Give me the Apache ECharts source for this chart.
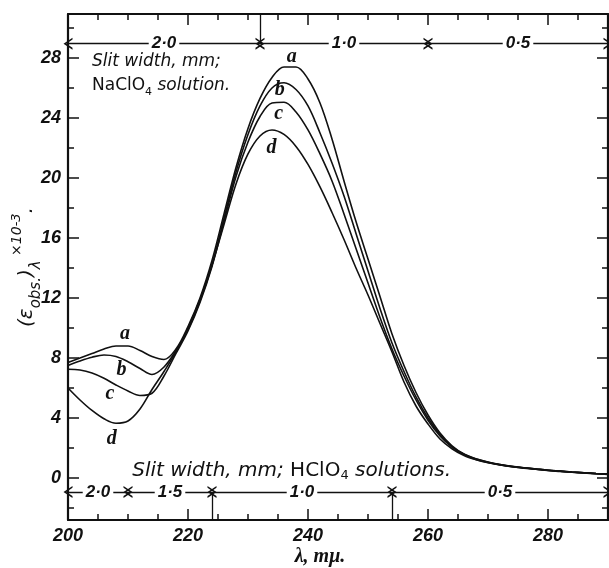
<!DOCTYPE html>
<html><head><meta charset="utf-8">
<script src="https://cdn.jsdelivr.net/npm/echarts@6/dist/echarts.min.js"></script>
<style>html,body{margin:0;padding:0;background:#fff}#c{width:609px;height:568px}</style>
</head><body><div id="c"></div>
<script>
// ---- data ----
const wavelengths = [200,202,204,206,208,210,212,214,216,218,220,222,224,226,228,230,232,234,236,238,240,242,244,246,248,250,252,254,256,258,260,262,264,266,268,270,272,274,276,278,280,282,284,286,288,290];
const curveA = [7.7,8.0,8.3,8.6,8.8,8.8,8.5,8.1,7.9,8.6,10.1,12.0,14.5,17.6,20.7,23.3,25.3,26.7,27.4,27.4,26.6,25.0,22.6,19.8,17.1,14.6,12.1,9.6,7.5,5.7,4.2,3.0,2.15,1.6,1.28,1.06,0.9,0.78,0.68,0.6,0.52,0.46,0.4,0.35,0.3,0.26];
const curveB = [7.5,7.8,8.05,8.2,8.1,7.75,7.3,6.9,7.4,8.5,9.9,11.8,14.2,17.3,20.4,22.9,24.8,26.0,26.35,25.9,24.8,23.0,21.0,18.8,16.3,13.8,11.3,9.0,7.1,5.4,4.0,2.9,2.1,1.58,1.26,1.05,0.89,0.77,0.68,0.6,0.52,0.46,0.4,0.35,0.3,0.26];
const curveC = [7.25,7.2,7.0,6.65,6.2,5.8,5.5,5.65,6.8,8.3,9.8,11.7,14.1,17.1,20.1,22.4,24.1,25.0,25.05,24.4,23.2,21.6,19.8,17.6,15.3,13.0,10.7,8.6,6.8,5.2,3.85,2.8,2.05,1.55,1.24,1.03,0.88,0.76,0.67,0.59,0.51,0.45,0.39,0.34,0.29,0.25];
const curveD = [6.0,5.2,4.5,3.95,3.65,3.8,4.6,5.9,7.1,8.4,10.0,11.9,14.2,16.9,19.6,21.6,22.8,23.2,22.9,22.1,20.9,19.4,17.7,15.9,14.0,12.2,10.3,8.4,6.4,4.8,3.6,2.6,1.95,1.5,1.22,1.02,0.87,0.75,0.66,0.58,0.5,0.44,0.38,0.33,0.28,0.24];
const curveNames = ['a','b','c','d'];
const peakLabels = [[237.3,28.1,'a'],[235.3,25.85,'b'],[235.1,24.3,'c'],[233.9,22.0,'d']];
const dipLabels = [[209.5,9.6,'a'],[208.9,7.2,'b'],[207.0,5.6,'c'],[207.3,2.6,'d']];
const xMajorTicks = [200,220,240,260,280];
const xMinorTicks = [205,210,215,225,230,235,245,250,255,265,270,275,285];
const yMajorTicks = [0,4,8,12,16,20,24,28];
const yMinorTicks = [-2,2,6,10,14,18,22,26,30];
const topSlitBreaks = [200,232,260,290];
const topSlitLabels = ['2·0','1·0','0·5'];
const topSlitLevel = 28.95;
const bottomSlitBreaks = [200,210,224,254,290];
const bottomSlitLabels = ['2·0','1·5','1·0','0·5'];
const bottomSlitLevel = -0.93;
const topNotePos = [204.0, 26.95];
const bottomNotePos = [210.7, 0.5];

// ---- chart ----
const X_MIN = 200, X_MAX = 290, Y_MIN = -2.8, Y_MAX = 30.93;
const INK = '#111';
const numFont = {fontFamily:'Liberation Sans', fontStyle:'italic', fontWeight:'bold', fontSize:18, color:INK};
const chart = echarts.init(document.getElementById('c'), null, {renderer:'canvas'});

function xAx(pos, ticks, len, showLine, showLabel){
  return {type:'value', min:X_MIN, max:X_MAX, position:pos, gridIndex:0,
    axisLine:{show:showLine, onZero:false, lineStyle:{color:INK, width:2}},
    axisTick:{show:true, inside:true, length:len, customValues:ticks, lineStyle:{color:INK, width:1.5}},
    axisLabel:{show:showLabel, customValues:ticks, margin:7, ...numFont},
    splitLine:{show:false}};
}
function yAx(pos, ticks, len, showLine, showLabel){
  return {type:'value', min:Y_MIN, max:Y_MAX, position:pos, gridIndex:0,
    axisLine:{show:showLine, onZero:false, lineStyle:{color:INK, width:2.2}},
    axisTick:{show:true, inside:true, length:len, customValues:ticks, lineStyle:{color:INK, width:1.5}},
    axisLabel:{show:showLabel, customValues:ticks, margin:7, ...numFont},
    splitLine:{show:false}};
}
const xAxes = [xAx('bottom', xMajorTicks, 11, true, true), xAx('bottom', xMinorTicks, 6, false, false),
               xAx('top', xMajorTicks, 11, true, false), xAx('top', xMinorTicks, 6, false, false)];
xAxes[0].name = 'λ, mμ.';
xAxes[0].nameLocation = 'middle';
xAxes[0].nameGap = 27;
xAxes[0].nameMoveOverlap = false;
xAxes[0].nameTextStyle = {fontFamily:'Liberation Serif', fontStyle:'italic', fontWeight:'bold', fontSize:20, color:INK, padding:[0,36,0,0]};
const yAxes = [yAx('left', yMajorTicks, 11, true, true), yAx('left', yMinorTicks, 6, false, false),
               yAx('right', yMajorTicks, 11, true, false), yAx('right', yMinorTicks, 6, false, false)];
yAxes[0].name = '{p|(ε}{sub|obs.}{p|)}{sub|λ}{sup| ×10}{sup2|-3}{p|.}';
yAxes[0].nameLocation = 'middle';
yAxes[0].nameRotate = 90;
yAxes[0].nameGap = 24;
yAxes[0].nameMoveOverlap = false;
const nameFam = 'DejaVu Sans';
yAxes[0].nameTextStyle = {
  rich:{
    p:{fontFamily:nameFam, fontStyle:'italic', fontSize:20, color:INK, lineHeight:30, verticalAlign:'middle'},
    sub:{fontFamily:nameFam, fontStyle:'italic', fontSize:15, color:INK, lineHeight:30, verticalAlign:'bottom'},
    sup:{fontFamily:nameFam, fontStyle:'italic', fontSize:14, color:INK, lineHeight:30, verticalAlign:'top'},
    sup2:{fontFamily:nameFam, fontStyle:'italic', fontSize:13, color:INK, lineHeight:34, verticalAlign:'top'}
  }
};

const curves = [curveA, curveB, curveC, curveD];
const series = curves.map((c, k) => ({
  name: curveNames[k], type:'line', xAxisIndex:0, yAxisIndex:0,
  data: wavelengths.map((w,i)=>[w, c[i]]),
  smooth:0.35, showSymbol:false, symbol:'none',
  lineStyle:{color:INK, width:1.6}, z:3, silent:true
}));

const chevron = 'path://M0,10 L5,0 L10,10 L8.4,10 L5,3.2 L1.6,10 Z';
function slitSegments(breaks, level){
  const out = [];
  for (let i=0;i<breaks.length-1;i++){
    out.push([{coord:[breaks[i], level]}, {coord:[breaks[i+1], level]}]);
  }
  return out;
}
function slitLabelPoints(breaks, labels, level){
  return labels.map((t,i)=>[(breaks[i]+breaks[i+1])/2, level, t]);
}
series.push({
  type:'line', xAxisIndex:0, yAxisIndex:0, data:[], silent:true,
  markLine:{silent:true, symbol:[chevron, chevron], symbolSize:[12,9], animation:false,
    lineStyle:{color:INK, width:1.3, type:'solid'}, label:{show:false},
    data: slitSegments(topSlitBreaks, topSlitLevel).concat(slitSegments(bottomSlitBreaks, bottomSlitLevel))}
});
series.push({
  type:'line', xAxisIndex:0, yAxisIndex:0, data:[], silent:true,
  markLine:{silent:true, symbol:['none','none'], animation:false, label:{show:false},
    lineStyle:{color:INK, width:1.3, type:'solid'},
    data:[[{coord:[topSlitBreaks[1], topSlitLevel]},{coord:[topSlitBreaks[1], Y_MAX]}],
          [{coord:[bottomSlitBreaks[2], bottomSlitLevel]},{coord:[bottomSlitBreaks[2], Y_MIN]}],
          [{coord:[bottomSlitBreaks[3], bottomSlitLevel]},{coord:[bottomSlitBreaks[3], Y_MIN]}]]}
});
series.push({type:'scatter', xAxisIndex:0, yAxisIndex:0, symbolSize:0, silent:true, z:6, itemStyle:{opacity:1},
  data: slitLabelPoints(topSlitBreaks, topSlitLabels, topSlitLevel).concat(slitLabelPoints(bottomSlitBreaks, bottomSlitLabels, bottomSlitLevel)),
  label:{show:true, position:'inside', formatter:p=>p.data[2], backgroundColor:'#fff', padding:[0,3], opacity:1,
    fontFamily:'Liberation Sans', fontStyle:'italic', fontWeight:'bold', fontSize:17, color:INK}});
const letterStyle = {show:true, position:'inside', formatter:p=>p.data[2], opacity:1,
  fontFamily:'Liberation Serif', fontStyle:'italic', fontWeight:'bold', fontSize:20, color:INK};
series.push({type:'scatter', xAxisIndex:0, yAxisIndex:0, symbolSize:0, silent:true, z:5, itemStyle:{opacity:1},
  data: peakLabels.concat(dipLabels), label:letterStyle});
const noteFam = 'DejaVu Sans';
const noteRich = {
  i:{fontFamily:noteFam, fontStyle:'italic', fontSize:17, color:INK, lineHeight:24},
  u:{fontFamily:noteFam, fontSize:17, color:INK, lineHeight:24},
  s:{fontFamily:noteFam, fontSize:11, color:INK, lineHeight:24, verticalAlign:'bottom'},
  I:{fontFamily:noteFam, fontStyle:'italic', fontSize:20, color:INK, lineHeight:24},
  U:{fontFamily:noteFam, fontSize:20, color:INK, lineHeight:24},
  S:{fontFamily:noteFam, fontSize:13, color:INK, lineHeight:24, verticalAlign:'bottom'}
};
series.push({type:'scatter', xAxisIndex:0, yAxisIndex:0, symbolSize:0, silent:true, z:5, itemStyle:{opacity:1},
  data:[[topNotePos[0], topNotePos[1], '{i|Slit width, mm;}\n{u|NaClO}{s|4}{i| solution.}'],
        [bottomNotePos[0], bottomNotePos[1], '{I|Slit width, mm; }{U|HClO}{S|4}{I| solutions.}']],
  label:{show:true, position:'inside', align:'left', verticalAlign:'middle', opacity:1, color:INK, formatter:p=>p.data[2], rich:noteRich}});

chart.setOption({
  animation:false,
  backgroundColor:'#fff',
  grid:{left:68, top:14, width:540, height:506, containLabel:false, outerBoundsMode:'none'},
  xAxis:xAxes, yAxis:yAxes, series
});
</script></body></html>
